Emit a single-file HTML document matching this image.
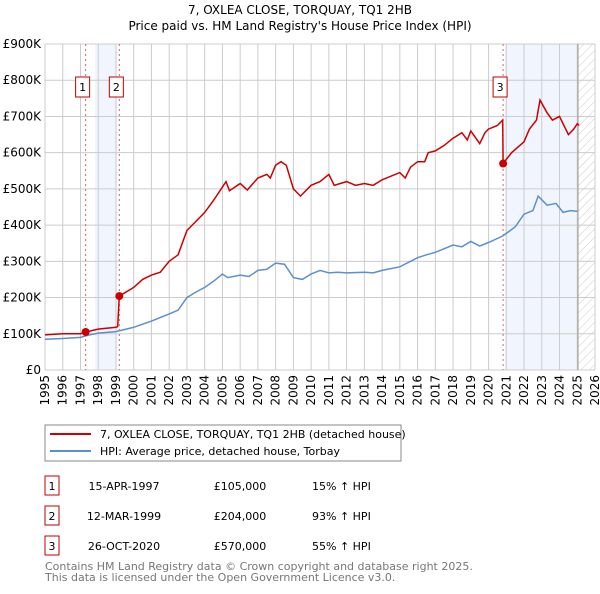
<!DOCTYPE html>
<html><head><meta charset="utf-8">
<style>
body{margin:0;background:#fff;font-family:"DejaVu Sans","Liberation Sans",sans-serif;}
svg text{font-family:"DejaVu Sans","Liberation Sans",sans-serif;}
</style></head>
<body>
<svg width="600" height="590" xmlns="http://www.w3.org/2000/svg">
<defs>
<pattern id="hatch" width="6" height="6" patternUnits="userSpaceOnUse" patternTransform="rotate(45)">
<line x1="0" y1="0" x2="0" y2="6" stroke="#ccc" stroke-width="1"/>
</pattern>
</defs>
<text x="300" y="14" text-anchor="middle" font-size="12">7, OXLEA CLOSE, TORQUAY, TQ1 2HB</text>
<text x="300" y="30" text-anchor="middle" font-size="12">Price paid vs. HM Land Registry's House Price Index (HPI)</text>
<g id="plot"></g>
<rect x="45" y="425" width="356" height="36" fill="#fff" stroke="#888"/>
<line x1="50" y1="434" x2="91" y2="434" stroke="#cc0000" stroke-width="2"/>
<text x="100" y="438" font-size="11">7, OXLEA CLOSE, TORQUAY, TQ1 2HB (detached house)</text>
<line x1="50" y1="451" x2="91" y2="451" stroke="#5b8fd0" stroke-width="2"/>
<text x="100" y="455" font-size="11">HPI: Average price, detached house, Torbay</text>
<g font-size="11">
<rect x="45" y="476" width="14" height="19" fill="none" stroke="#b00"/>
<text x="52" y="490" text-anchor="middle">1</text>
<text x="124" y="490" text-anchor="middle">15-APR-1997</text>
<text x="240" y="490" text-anchor="middle">£105,000</text>
<text x="312" y="490">15% ↑ HPI</text>
<rect x="45" y="506" width="14" height="19" fill="none" stroke="#b00"/>
<text x="52" y="520" text-anchor="middle">2</text>
<text x="124" y="520" text-anchor="middle">12-MAR-1999</text>
<text x="240" y="520" text-anchor="middle">£204,000</text>
<text x="312" y="520">93% ↑ HPI</text>
<rect x="45" y="536" width="14" height="19" fill="none" stroke="#b00"/>
<text x="52" y="550" text-anchor="middle">3</text>
<text x="124" y="550" text-anchor="middle">26-OCT-2020</text>
<text x="240" y="550" text-anchor="middle">£570,000</text>
<text x="312" y="550">55% ↑ HPI</text>
</g>
<text x="45" y="570" font-size="11" fill="#777">Contains HM Land Registry data © Crown copyright and database right 2025.</text>
<text x="45" y="581" font-size="11" fill="#777">This data is licensed under the Open Government Licence v3.0.</text>
</svg>
<script>
const yTicks=[0,100,200,300,400,500,600,700,800,900];
const yTickLabels=["£0","£100K","£200K","£300K","£400K","£500K","£600K","£700K","£800K","£900K"];
const xYears=[1995,1996,1997,1998,1999,2000,2001,2002,2003,2004,2005,2006,2007,2008,2009,2010,2011,2012,2013,2014,2015,2016,2017,2018,2019,2020,2021,2022,2023,2024,2025,2026];
const hpiT=[1995,1996,1997,1997.5,1998,1999,2000,2001,2002,2002.5,2003,2003.5,2004,2004.5,2005,2005.3,2006,2006.5,2007,2007.5,2008,2008.5,2009,2009.5,2010,2010.5,2011,2011.5,2012,2013,2013.5,2014,2015,2016,2016.5,2017,2017.5,2018,2018.5,2019,2019.5,2020,2020.8,2021.5,2022,2022.5,2022.8,2023.3,2023.8,2024.2,2024.6,2025];
const hpiV=[85,87,90,97,102,106,118,135,155,165,200,215,228,245,265,255,262,258,275,278,295,292,255,250,265,275,268,270,268,270,268,275,285,310,318,325,335,345,340,355,342,352,370,395,430,440,480,455,460,435,440,438];
const priceT=[1995,1996,1997,1997.29,1998,1999,1999.1,1999.19,2000,2000.5,2001,2001.5,2002,2002.5,2003,2003.5,2004,2004.5,2005,2005.2,2005.4,2006,2006.4,2007,2007.5,2007.7,2008,2008.3,2008.6,2009,2009.4,2010,2010.5,2011,2011.3,2012,2012.5,2013,2013.5,2014,2015,2015.3,2015.6,2016,2016.4,2016.6,2017,2017.5,2018,2018.5,2018.8,2019,2019.5,2019.8,2020,2020.5,2020.8,2020.82,2021.3,2022,2022.3,2022.7,2022.9,2023.3,2023.6,2024,2024.5,2024.8,2025,2025.1];
const priceV=[97,100,100,105,113,118,120,204,228,250,262,270,300,318,385,410,435,468,505,520,495,515,497,530,540,530,565,575,565,500,480,510,520,540,510,520,510,515,510,525,545,530,560,575,575,600,605,620,640,655,635,660,625,655,665,675,690,570,600,630,665,690,745,710,690,700,650,665,680,675];
const saleT=[1997.29,1999.19,2020.82];
const saleV=[105,204,570];
const saleLabels=["1","2","3"];

const X0=45,X1=595,Y0=370,Y1=44;
const xs=t=>X0+(t-1995)*(X1-X0)/31;
const ys=v=>Y0-v*(Y0-Y1)/900;
const NS="http://www.w3.org/2000/svg";
const g=document.getElementById('plot');
function mk(tag,attrs,parent){const e=document.createElementNS(NS,tag);for(const k in attrs)e.setAttribute(k,attrs[k]);(parent||g).appendChild(e);return e;}

let e;
e=mk('rect',{x:95,y:Y1,width:22,height:Y0-Y1,fill:'#eef3fc',opacity:0.8});


e=mk('rect',{x:505,y:Y1,width:73,height:Y0-Y1,fill:'#eef3fc',opacity:0.8});


e=mk('rect',{x:578,y:Y1,width:17,height:Y0-Y1,fill:'url(#hatch)'});



yTicks.forEach((v,i)=>{
  e=mk('line',{x1:X0,x2:X1,y1:ys(v),y2:ys(v),stroke:'#ccc','stroke-width':1});
  
  
  e=mk('text',{x:X0-4,y:ys(v)+4,'text-anchor':'end','font-size':12});
  e.textContent=yTickLabels[i];
  
  
});
xYears.forEach(yr=>{
  e=mk('line',{x1:xs(yr),x2:xs(yr),y1:Y1,y2:Y0,stroke:'#ccc','stroke-width':1});
  
  
  const tx=xs(yr)+4,ty=Y0+5;
  e=mk('text',{x:tx,y:ty,'text-anchor':'end','font-size':12,transform:`rotate(-90 ${tx} ${ty})`});
  e.textContent=yr;
  
  
});
e=mk('line',{x1:578,x2:578,y1:Y1,y2:Y0,stroke:'#999','stroke-width':1});



saleT.forEach((t,i)=>{
  e=mk('line',{x1:xs(t),x2:xs(t),y1:Y1,y2:Y0,stroke:'#e06060','stroke-width':1,'stroke-dasharray':'2,3'});
  
  
});

const path=(T,V)=>T.map((t,i)=>(i?'L':'M')+xs(t).toFixed(1)+','+ys(V[i]).toFixed(1)).join('');
e=mk('path',{d:path(hpiT,hpiV),fill:'none',stroke:'#5b8fd0','stroke-width':1.5});


e=mk('path',{d:path(priceT,priceV),fill:'none',stroke:'#cc0000','stroke-width':1.5});



saleT.forEach((t,i)=>{
  e=mk('circle',{cx:xs(t),cy:ys(saleV[i]),r:4,fill:'#cc0000'});
  
  
  const bx=xs(t)-10;
  e=mk('rect',{x:bx,y:77,width:14,height:20,fill:'#fff',stroke:'#b00'});
  
  
  e=mk('text',{x:bx+7,y:91,'text-anchor':'middle','font-size':11});
  e.textContent=saleLabels[i];
  
  
});
</script>
</body></html>
